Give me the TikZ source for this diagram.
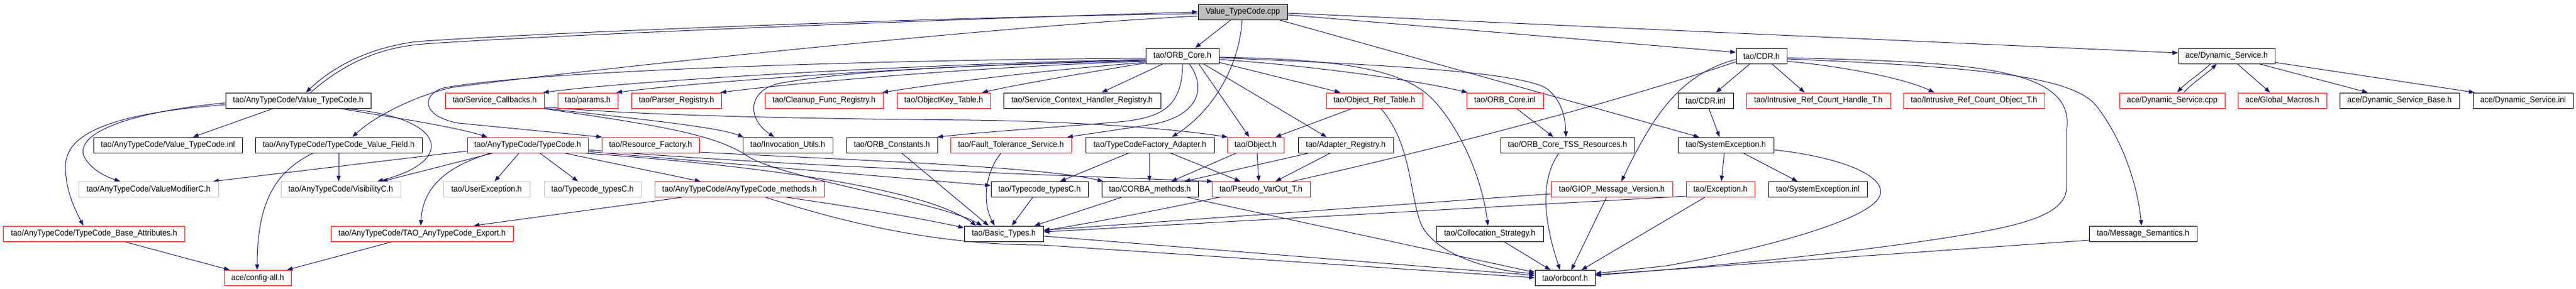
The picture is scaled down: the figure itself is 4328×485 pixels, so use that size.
\documentclass[tikz,border=0pt]{standalone}
\usepackage{fontspec}
\newfontfamily\nodefont{Liberation Sans}[FakeStretch=0.94]
\usetikzlibrary{arrows.meta}
\definecolor{edgeblue}{HTML}{191970}
\definecolor{boxgray}{HTML}{BFBFBF}
\pgfdeclarelayer{bg}
\pgfsetlayers{bg,main}
\tikzset{
  box/.style={draw=black, fill=white, line width=1pt, minimum height=26pt, inner sep=0pt,
    font=\nodefont\fontsize{14}{16}\selectfont, text=black},
  redbox/.style={box, draw=red},
  graybox/.style={box, draw=boxgray},
  rootbox/.style={box, fill=boxgray},
  edge/.style={draw=edgeblue, line width=1pt, -{Triangle[length=9.5pt,width=7pt]}},
}
\begin{document}
\begin{tikzpicture}[x=1pt,y=-1pt]
\useasboundingbox (0,0) rectangle (4328,485);
% ---- nodes
\node[rootbox, minimum width=150pt] (cpp) at (2088,20) {Value\_TypeCode.cpp};
\node[box, minimum width=244pt] (vtch) at (501,169) {tao/AnyTypeCode/Value\_TypeCode.h};
\node[box, minimum width=123pt] (orbcore) at (1986.5,94) {tao/ORB\_Core.h};
\node[box, minimum width=85pt] (cdr) at (2959.5,94) {tao/CDR.h};
\node[box, minimum width=162pt] (dynsvc) at (3741,94) {ace/Dynamic\_Service.h};
% row 2
\node[redbox, minimum width=166pt] (svccb) at (831,169) {tao/Service\_Callbacks.h};
\node[redbox, minimum width=101pt] (params) at (987.5,169) {tao/params.h};
\node[redbox, minimum width=151pt] (parser) at (1136.5,169) {tao/Parser\_Registry.h};
\node[redbox, minimum width=199pt] (cleanup) at (1384.5,169) {tao/Cleanup\_Func\_Registry.h};
\node[redbox, minimum width=157pt] (objkey) at (1585.5,169) {tao/ObjectKey\_Table.h};
\node[box, minimum width=264pt] (schr) at (1818,169) {tao/Service\_Context\_Handler\_Registry.h};
\node[redbox, minimum width=162pt] (objreftab) at (2309,169) {tao/Object\_Ref\_Table.h};
\node[redbox, minimum width=129pt] (orbcoreinl) at (2528.5,169) {tao/ORB\_Core.inl};
\node[box, minimum width=93pt] (cdrinl) at (2865.5,169) {tao/CDR.inl};
\node[redbox, minimum width=242pt] (irch) at (3055,169) {tao/Intrusive\_Ref\_Count\_Handle\_T.h};
\node[redbox, minimum width=237pt] (irco) at (3316.5,169) {tao/Intrusive\_Ref\_Count\_Object\_T.h};
\node[redbox, minimum width=177pt] (dscpp) at (3649.5,169) {ace/Dynamic\_Service.cpp};
\node[redbox, minimum width=149pt] (globmac) at (3834.5,169) {ace/Global\_Macros.h};
\node[box, minimum width=201pt] (dsbase) at (4031.5,169) {ace/Dynamic\_Service\_Base.h};
\node[box, minimum width=168pt] (dsinl) at (4239,169) {ace/Dynamic\_Service.inl};
% row 3
\node[box, minimum width=250pt] (vtcinl) at (282,244) {tao/AnyTypeCode/Value\_TypeCode.inl};
\node[box, minimum width=280pt] (tcvf) at (569,244) {tao/AnyTypeCode/TypeCode\_Value\_Field.h};
\node[redbox, minimum width=203pt] (typecode) at (886.5,244) {tao/AnyTypeCode/TypeCode.h};
\node[redbox, minimum width=164pt] (resfact) at (1093,244) {tao/Resource\_Factory.h};
\node[box, minimum width=151pt] (invutil) at (1323.5,244) {tao/Invocation\_Utils.h};
\node[box, minimum width=153pt] (orbconst) at (1498.5,244) {tao/ORB\_Constants.h};
\node[redbox, minimum width=203pt] (fts) at (1698.5,244) {tao/Fault\_Tolerance\_Service.h};
\node[box, minimum width=216pt] (tcfa) at (1932,244) {tao/TypeCodeFactory\_Adapter.h};
\node[redbox, minimum width=95pt] (object) at (2109.5,244) {tao/Object.h};
\node[box, minimum width=160pt] (adreg) at (2261,244) {tao/Adapter\_Registry.h};
\node[box, minimum width=225pt] (tss) at (2633.5,244) {tao/ORB\_Core\_TSS\_Resources.h};
\node[box, minimum width=161pt] (sysexc) at (2899.5,244) {tao/SystemException.h};
% row 4
\node[graybox, minimum width=235pt] (vmod) at (249.5,318.5) {tao/AnyTypeCode/ValueModifierC.h};
\node[graybox, minimum width=201pt] (vis) at (572.5,318.5) {tao/AnyTypeCode/VisibilityC.h};
\node[graybox, minimum width=145pt] (userexc) at (817.5,318.5) {tao/UserException.h};
\node[graybox, minimum width=163pt] (tctypesG) at (995.5,318.5) {tao/Typecode\_typesC.h};
\node[redbox, minimum width=285pt] (atcm) at (1242.5,318.5) {tao/AnyTypeCode/AnyTypeCode\_methods.h};
\node[box, minimum width=163pt] (tctypes) at (1746.5,318.5) {tao/Typecode\_typesC.h};
\node[box, minimum width=162pt] (corbam) at (1932,318.5) {tao/CORBA\_methods.h};
\node[redbox, minimum width=165pt] (pseudo) at (2118.5,318.5) {tao/Pseudo\_VarOut\_T.h};
\node[redbox, minimum width=204pt] (giop) at (2708,318.5) {tao/GIOP\_Message\_Version.h};
\node[redbox, minimum width=115pt] (exc) at (2890.5,318.5) {tao/Exception.h};
\node[box, minimum width=166pt] (sysexcinl) at (3054,318.5) {tao/SystemException.inl};
% row 5
\node[redbox, minimum width=305pt] (tcba) at (158,393) {tao/AnyTypeCode/TypeCode\_Base\_Attributes.h};
\node[redbox, minimum width=306pt] (export) at (709,393) {tao/AnyTypeCode/TAO\_AnyTypeCode\_Export.h};
\node[box, minimum width=133pt] (basic) at (1686.5,393) {tao/Basic\_Types.h};
\node[box, minimum width=180pt] (colloc) at (2503,393) {tao/Collocation\_Strategy.h};
\node[box, minimum width=181pt] (msgsem) at (3600.5,393) {tao/Message\_Semantics.h};
% row 6
\node[redbox, minimum width=112pt] (configall) at (433,467.5) {ace/config-all.h};
\node[box, minimum width=101pt] (orbconf) at (2629.5,467.5) {tao/orbconf.h};

% ---- edges
\begin{pgfonlayer}{bg}
% root
\draw[edge] (cpp.west|-0,23) .. controls (1600,28) and (900,55) .. (700,70) .. controls (620,80) and (560,112) .. (514,0|-vtch.north);
\draw[edge] (522,0|-vtch.north) .. controls (568,115) and (628,80) .. (712,74) .. controls (900,60) and (1600,32) .. (cpp.west|-0,20);
\draw[edge] (cpp.west|-0,27) .. controls (1700,42) and (1000,115) .. (760,147) .. controls (700,160) and (630,195) .. (592,0|-tcvf.north);
\draw[edge] (2068,0|-cpp.south) -- (2008,0|-orbcore.north);
\draw[edge] (2087,0|-cpp.south) .. controls (2082,110) and (2040,185) .. (1969,0|-tcfa.north);
\draw[edge] (cpp.east|-0,25) -- (cdr.west|-0,88);
\draw[edge] (cpp.east|-0,22) -- (dynsvc.west|-0,89);
\draw[edge] (2149,0|-cpp.south) -- (2855,0|-sysexc.north);
% Value_TypeCode.h
\draw[edge] (571,0|-vtch.south) .. controls (650,196) and (760,212) .. (819,0|-typecode.north);
\draw[edge] (576,0|-vtch.south) .. controls (750,195) and (770,270) .. (634,0|-vis.north);
\draw[edge] (459,0|-vtch.south) -- (324,0|-vtcinl.north);
\draw[edge] (vtch.west|-0,173) .. controls (250,185) and (130,215) .. (140,260) .. controls (150,285) and (180,298) .. (202,0|-vmod.north);
\draw[edge] (vtch.west|-0,176) .. controls (200,190) and (110,220) .. (110,280) .. controls (110,320) and (125,350) .. (140,0|-tcba.north);
% TypeCode_Value_Field.h
\draw[edge] (526,0|-tcvf.south) .. controls (470,285) and (432,330) .. (432,0|-configall.north);
\draw[edge] (569,0|-tcvf.south) -- (569,0|-vis.north);
% TypeCode.h
\draw[edge] (typecode.west|-0,254) -- (358,0|-vmod.north);
\draw[edge] (828,0|-typecode.south) -- (642,0|-vis.north);
\draw[edge] (824,0|-typecode.south) .. controls (750,280) and (710,315) .. (707,0|-export.north);
\draw[edge] (872,0|-typecode.south) -- (831,0|-userexc.north);
\draw[edge] (907,0|-typecode.south) -- (971,0|-tctypesG.north);
\draw[edge] (948,0|-typecode.south) -- (1177,0|-atcm.north);
\draw[edge] (typecode.east|-0,255) -- (tctypes.west|-0,312);
\draw[edge] (typecode.east|-0,252) .. controls (1300,278) and (1700,292) .. ([xshift=2pt]pseudo.north west);
\draw[edge] (980,0|-typecode.south) .. controls (1300,280) and (1560,320) .. (1640,0|-basic.north);
% Resource_Factory.h
\draw[edge] (resfact.east|-0,256) .. controls (1450,270) and (1750,280) .. ([xshift=3pt]corbam.north west);
% AnyTypeCode_methods.h
\draw[edge] (1145,0|-atcm.south) -- (796,0|-export.north);
\draw[edge] (1322,0|-atcm.south) .. controls (1450,350) and (1560,370) .. (basic.west|-0,383);
\draw[edge] (1287,0|-atcm.south) .. controls (1450,385) and (1600,412) .. (1750,412) -- (orbconf.west|-0,467);
% Object.h, TypeCodeFactory_Adapter.h, Adapter_Registry.h
\draw[edge] (2077,0|-object.south) -- (1968,0|-corbam.north);
\draw[edge] (2112,0|-object.south) -- (2115,0|-pseudo.north);
\draw[edge] (1896,0|-tcfa.south) -- (1781,0|-tctypes.north);
\draw[edge] (1931,0|-tcfa.south) -- (1931,0|-corbam.north);
\draw[edge] (1967,0|-tcfa.south) -- (2084,0|-pseudo.north);
\draw[edge] (2199,0|-adreg.south) -- (1990,0|-corbam.north);
\draw[edge] (2235,0|-adreg.south) -- (2143,0|-pseudo.north);
% Object_Ref_Table.h, ORB_Core.inl, TSS
\draw[edge] (2272,0|-objreftab.south) -- (2143,0|-object.north);
\draw[edge] (2320,0|-objreftab.south) .. controls (2370,240) and (2368,320) .. (2385,370) .. controls (2402,425) and (2500,455) .. (orbconf.west|-0,460);
\draw[edge] (2548,0|-orbcoreinl.south) -- (2610,0|-tss.north);
\draw[edge] (2619,0|-tss.south) .. controls (2590,300) and (2590,360) .. (2621,0|-orbconf.north);
\draw[edge] (2527,0|-colloc.south) -- (2605,0|-orbconf.north);
% GIOP, Exception, SystemException
\draw[edge] (2699,0|-giop.south) -- (2640,0|-orbconf.north);
\draw[edge] (giop.west|-0,326) -- (basic.east|-0,387);
\draw[edge] (exc.west|-0,330) -- (basic.east|-0,390);
\draw[edge] (2864,0|-exc.south) -- (2657,0|-orbconf.north);
\draw[edge] (2897,0|-sysexc.south) -- (2892,0|-exc.north);
\draw[edge] (2929,0|-sysexc.south) -- (3020,0|-sysexcinl.north);
\draw[edge] (sysexc.east|-0,252) .. controls (3100,265) and (3180,300) .. (3155,335) .. controls (3130,370) and (2980,415) .. (2800,447) -- (orbconf.east|-0,460);
\draw[edge] (2871,0|-cdrinl.south) -- (2889,0|-sysexc.north);
% CDR.h
\draw[edge] (2940,0|-cdr.south) -- (2883,0|-cdrinl.north);
\draw[edge] (2977,0|-cdr.south) -- (3032,0|-irch.north);
\draw[edge] (cdr.east|-0,103) .. controls (3100,112) and (3200,132) .. (3250,0|-irco.north);
\draw[edge] (cdr.east|-0,97) .. controls (3300,105) and (3490,110) .. (3472,220) -- (3472,315) .. controls (3472,360) and (3400,378) .. (3300,395) .. controls (3100,428) and (2850,450) .. (orbconf.east|-0,463);
\draw[edge] (cdr.east|-0,99) .. controls (3300,112) and (3480,125) .. (3522,178) .. controls (3560,226) and (3590,300) .. (3598,0|-msgsem.north);
\draw[edge] (cdr.west|-0,100) .. controls (2820,125) and (2775,200) .. (2724,0|-giop.north);
\draw[edge] (cdr.west|-0,104) .. controls (2600,210) and (2100,330) .. (basic.east|-0,388);
% Message_Semantics, Basic_Types, CORBA_methods, Typecode_typesC
\draw[edge] (msgsem.west|-0,404) -- (orbconf.east|-0,462);
\draw[edge] (basic.east|-0,397) -- (orbconf.west|-0,463);
\draw[edge] (1884,0|-corbam.south) -- (1738,0|-basic.north);
\draw[edge] (1995,0|-corbam.south) -- (orbconf.west|-0,458);
\draw[edge] (1735,0|-tctypes.south) -- (1700,0|-basic.north);
\draw[edge] (1515,0|-orbconst.south) -- (1661,0|-basic.north);
\draw[edge] (1682,0|-fts.south) .. controls (1655,290) and (1650,340) .. (1671,0|-basic.north);
% Service_Callbacks.h
\draw[edge] (svccb.east|-0,180) .. controls (1100,196) and (1400,200) .. (1630,202) .. controls (1800,204) and (1960,215) .. ([xshift=1pt]object.north west);
\draw[edge] (svccb.east|-0,182) .. controls (1050,198) and (1200,212) .. ([xshift=2pt]invutil.north west);
\draw[edge] (912,0|-svccb.south) .. controls (1100,210) and (1200,225) .. (1255,262) .. controls (1310,299) and (1580,340) .. (1650,0|-basic.north);
% ORB_Core.h
\draw[edge] (orbcore.west|-0,100) .. controls (1600,106) and (1100,132) .. ([xshift=-2pt]svccb.north east);
\draw[edge] (orbcore.west|-0,101) .. controls (1600,108) and (1200,135) .. ([xshift=-3pt]params.north east);
\draw[edge] (orbcore.west|-0,103) .. controls (1650,112) and (1350,138) .. ([xshift=-2pt]parser.north east);
\draw[edge] (orbcore.west|-0,105) .. controls (1750,118) and (1580,140) .. ([xshift=-2pt]cleanup.north east);
\draw[edge] (orbcore.west|-0,106) .. controls (1850,118) and (1720,140) .. (1650,0|-objkey.north);
\draw[edge] (1954,0|-orbcore.south) -- (1851,0|-schr.north);
\draw[edge] (orbcore.west|-0,98) .. controls (1500,100) and (900,118) .. (745,148) .. controls (710,158) and (705,195) .. (770,207) -- ([xshift=1pt]resfact.north west);
\draw[edge] (orbcore.west|-0,102) .. controls (1700,108) and (1450,115) .. (1310,140) .. controls (1255,152) and (1255,200) .. (1301,0|-invutil.north);
\draw[edge] (1987,0|-orbcore.south) .. controls (1986,178) and (1955,198) .. (1880,205) .. controls (1760,215) and (1650,222) .. ([xshift=-1pt]orbconst.north east);
\draw[edge] (1998,0|-orbcore.south) .. controls (2030,150) and (2010,196) .. (1936,209) .. controls (1880,218) and (1830,225) .. (1793,0|-fts.north);
\draw[edge] (2014,0|-orbcore.south) -- (2099,0|-object.north);
\draw[edge] (2022,0|-orbcore.south) -- (2229,0|-adreg.north);
\draw[edge] (orbcore.east|-0,105) -- (2252,0|-objreftab.north);
\draw[edge] (orbcore.east|-0,100) .. controls (2200,110) and (2380,135) .. ([xshift=2pt]orbcoreinl.north west);
\draw[edge] (orbcore.east|-0,97) .. controls (2300,108) and (2560,120) .. (2600,150) .. controls (2625,170) and (2630,200) .. (2631,0|-tss.north);
\draw[edge] (orbcore.east|-0,96) .. controls (2250,100) and (2360,115) .. (2410,170) .. controls (2455,220) and (2490,300) .. (2500,0|-colloc.north);
% Dynamic_Service.h
\draw[edge] (3714,0|-dynsvc.south) .. controls (3695,125) and (3672,140) .. (3658,0|-dscpp.north);
\draw[edge] (3669,0|-dscpp.north) .. controls (3685,138) and (3708,124) .. (3724,0|-dynsvc.south);
\draw[edge] (3759,0|-dynsvc.south) -- (3814,0|-globmac.north);
\draw[edge] (3796,0|-dynsvc.south) -- (3978,0|-dsbase.north);
\draw[edge] (dynsvc.east|-0,105) -- ([xshift=3pt]dsinl.north west);
% config-all.h
\draw[edge] (209,0|-tcba.south) -- (386,0|-configall.north);
\draw[edge] (659,0|-export.south) -- (482,0|-configall.north);
\end{pgfonlayer}
\end{tikzpicture}
\end{document}
